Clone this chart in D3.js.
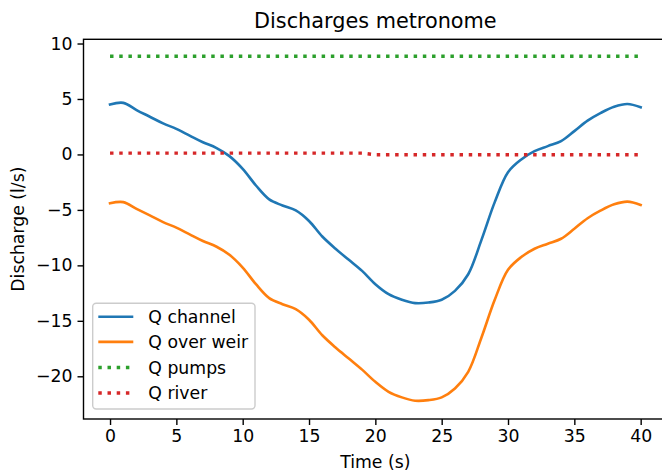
<!DOCTYPE html>
<html><head><meta charset="utf-8">
<script src="https://cdn.jsdelivr.net/npm/d3@7"></script>
<style>
html,body{margin:0;padding:0;background:#fff;overflow:hidden;}
text{font-family:"DejaVu Sans",sans-serif;}
</style></head>
<body>
<script>
const time = d3.range(0, 41);
const qChannel = [4.5,4.65,4.0,3.4,2.8,2.3,1.7,1.1,0.6,-0.15,-1.3,-2.8,-4.05,-4.6,-5.05,-6.0,-7.4,-8.5,-9.5,-10.5,-11.7,-12.6,-13.1,-13.4,-13.35,-13.1,-12.3,-10.8,-7.7,-4.3,-1.6,-0.45,0.3,0.75,1.2,2.1,3.05,3.75,4.3,4.55,4.25];
const qWeir = [-4.4,-4.3,-4.9,-5.5,-6.1,-6.6,-7.2,-7.8,-8.3,-9.05,-10.2,-11.7,-12.95,-13.5,-13.95,-14.9,-16.3,-17.4,-18.4,-19.4,-20.5,-21.4,-21.9,-22.2,-22.15,-21.9,-21.1,-19.6,-16.5,-13.1,-10.4,-9.25,-8.5,-8.05,-7.6,-6.7,-5.75,-5.05,-4.5,-4.25,-4.55];
const qPumps = time.map(() => 8.85);
const qRiver = [0.12,0.12,0.12,0.12,0.12,0.12,0.12,0.12,0.12,0.12,0.12,0.12,0.12,0.12,0.12,0.12,0.12,0.12,0.12,0.12,-0.02,-0.02,-0.02,-0.02,-0.02,-0.02,-0.02,-0.02,-0.02,-0.02,-0.02,-0.02,-0.02,-0.02,-0.02,-0.02,-0.02,-0.02,-0.02,-0.02,-0.02];
const xTicks = [0,5,10,15,20,25,30,35,40];
const yTicks = [-20,-15,-10,-5,0,5,10];
const seriesNames = ["Q channel","Q over weir","Q pumps","Q river"];
const colors = ["#1f77b4","#ff7f0e","#2ca02c","#d62728"];

const W = 662, H = 472;
const L = 83.5, R = 667.2, T = 39.3, B = 419;
const svg = d3.select("body").append("svg").attr("width", W).attr("height", H);
const x = d3.scaleLinear().domain([-2, 42]).range([L, R]);
const y = d3.scaleLinear().domain([-23.85, 10.38]).range([B, T]);
const fs = 17.3;

const series = [
  {vals: qChannel, dash: null, w: 2.6, curve: d3.curveCatmullRom.alpha(0.5)},
  {vals: qWeir, dash: null, w: 2.6, curve: d3.curveCatmullRom.alpha(0.5)},
  {vals: qPumps, dash: "3.47,5.73", w: 3.47, curve: d3.curveLinear},
  {vals: qRiver, dash: "3.47,5.73", w: 3.47, curve: d3.curveLinear}
];
const plot = svg.append("g");
series.forEach((s, i) => {
  const line = d3.line().x(d => x(d[0])).y(d => y(d[1])).curve(s.curve);
  plot.append("path")
    .datum(time.map((t, k) => [t, s.vals[k]]))
    .attr("d", line)
    .attr("fill", "none")
    .attr("stroke", colors[i])
    .attr("stroke-width", s.w)
    .attr("stroke-dasharray", s.dash)
    .attr("stroke-linecap", s.dash ? "butt" : "square")
    .attr("stroke-linejoin", "round");
});

// axes
const xa = svg.append("g").attr("transform", `translate(0,${B})`)
  .call(d3.axisBottom(x).tickValues(xTicks).tickSize(6).tickPadding(5).tickFormat(d3.format("d")));
const ya = svg.append("g").attr("transform", `translate(${L},0)`)
  .call(d3.axisLeft(y).tickValues(yTicks).tickSize(6).tickPadding(5).tickFormat(d3.format("d")));
[xa, ya].forEach(a => {
  a.select(".domain").remove();
  a.selectAll(".tick line").attr("stroke", "#000").attr("stroke-width", 1.4);
  a.selectAll(".tick text").attr("fill", "#000").style("font-size", fs + "px").style("font-family", "DejaVu Sans");
});

// frame
svg.append("rect").attr("x", L).attr("y", T).attr("width", R - L).attr("height", B - T)
  .attr("fill", "none").attr("stroke", "#000").attr("stroke-width", 1.4);

// title and labels
svg.append("text").attr("x", (L + R) / 2).attr("y", 28).attr("text-anchor", "middle")
  .style("font-size", "20.8px").text("Discharges metronome");
svg.append("text").attr("x", (L + R) / 2).attr("y", 468).attr("text-anchor", "middle")
  .style("font-size", fs + "px").text("Time (s)");
svg.append("text").attr("transform", `translate(24,${(T + B) / 2}) rotate(-90)`).attr("text-anchor", "middle")
  .style("font-size", fs + "px").text("Discharge (l/s)");

// legend
const lg = svg.append("g");
lg.append("rect").attr("x", 92.7).attr("y", 303.3).attr("width", 162.3).attr("height", 105.7)
  .attr("rx", 3.5).attr("fill", "rgba(255,255,255,0.8)").attr("stroke", "#cccccc").attr("stroke-width", 1.4);
const rowY = [316.7, 341.9, 367.6, 393.1];
seriesNames.forEach((n, i) => {
  lg.append("line").attr("x1", 98.3).attr("x2", 133.3).attr("y1", rowY[i]).attr("y2", rowY[i])
    .attr("stroke", colors[i]).attr("stroke-width", series[i].w)
    .attr("stroke-dasharray", series[i].dash);
  lg.append("text").attr("x", 148.3).attr("y", rowY[i]).attr("dy", "0.36em")
    .style("font-size", fs + "px").text(n);
});
</script>
</body></html>
